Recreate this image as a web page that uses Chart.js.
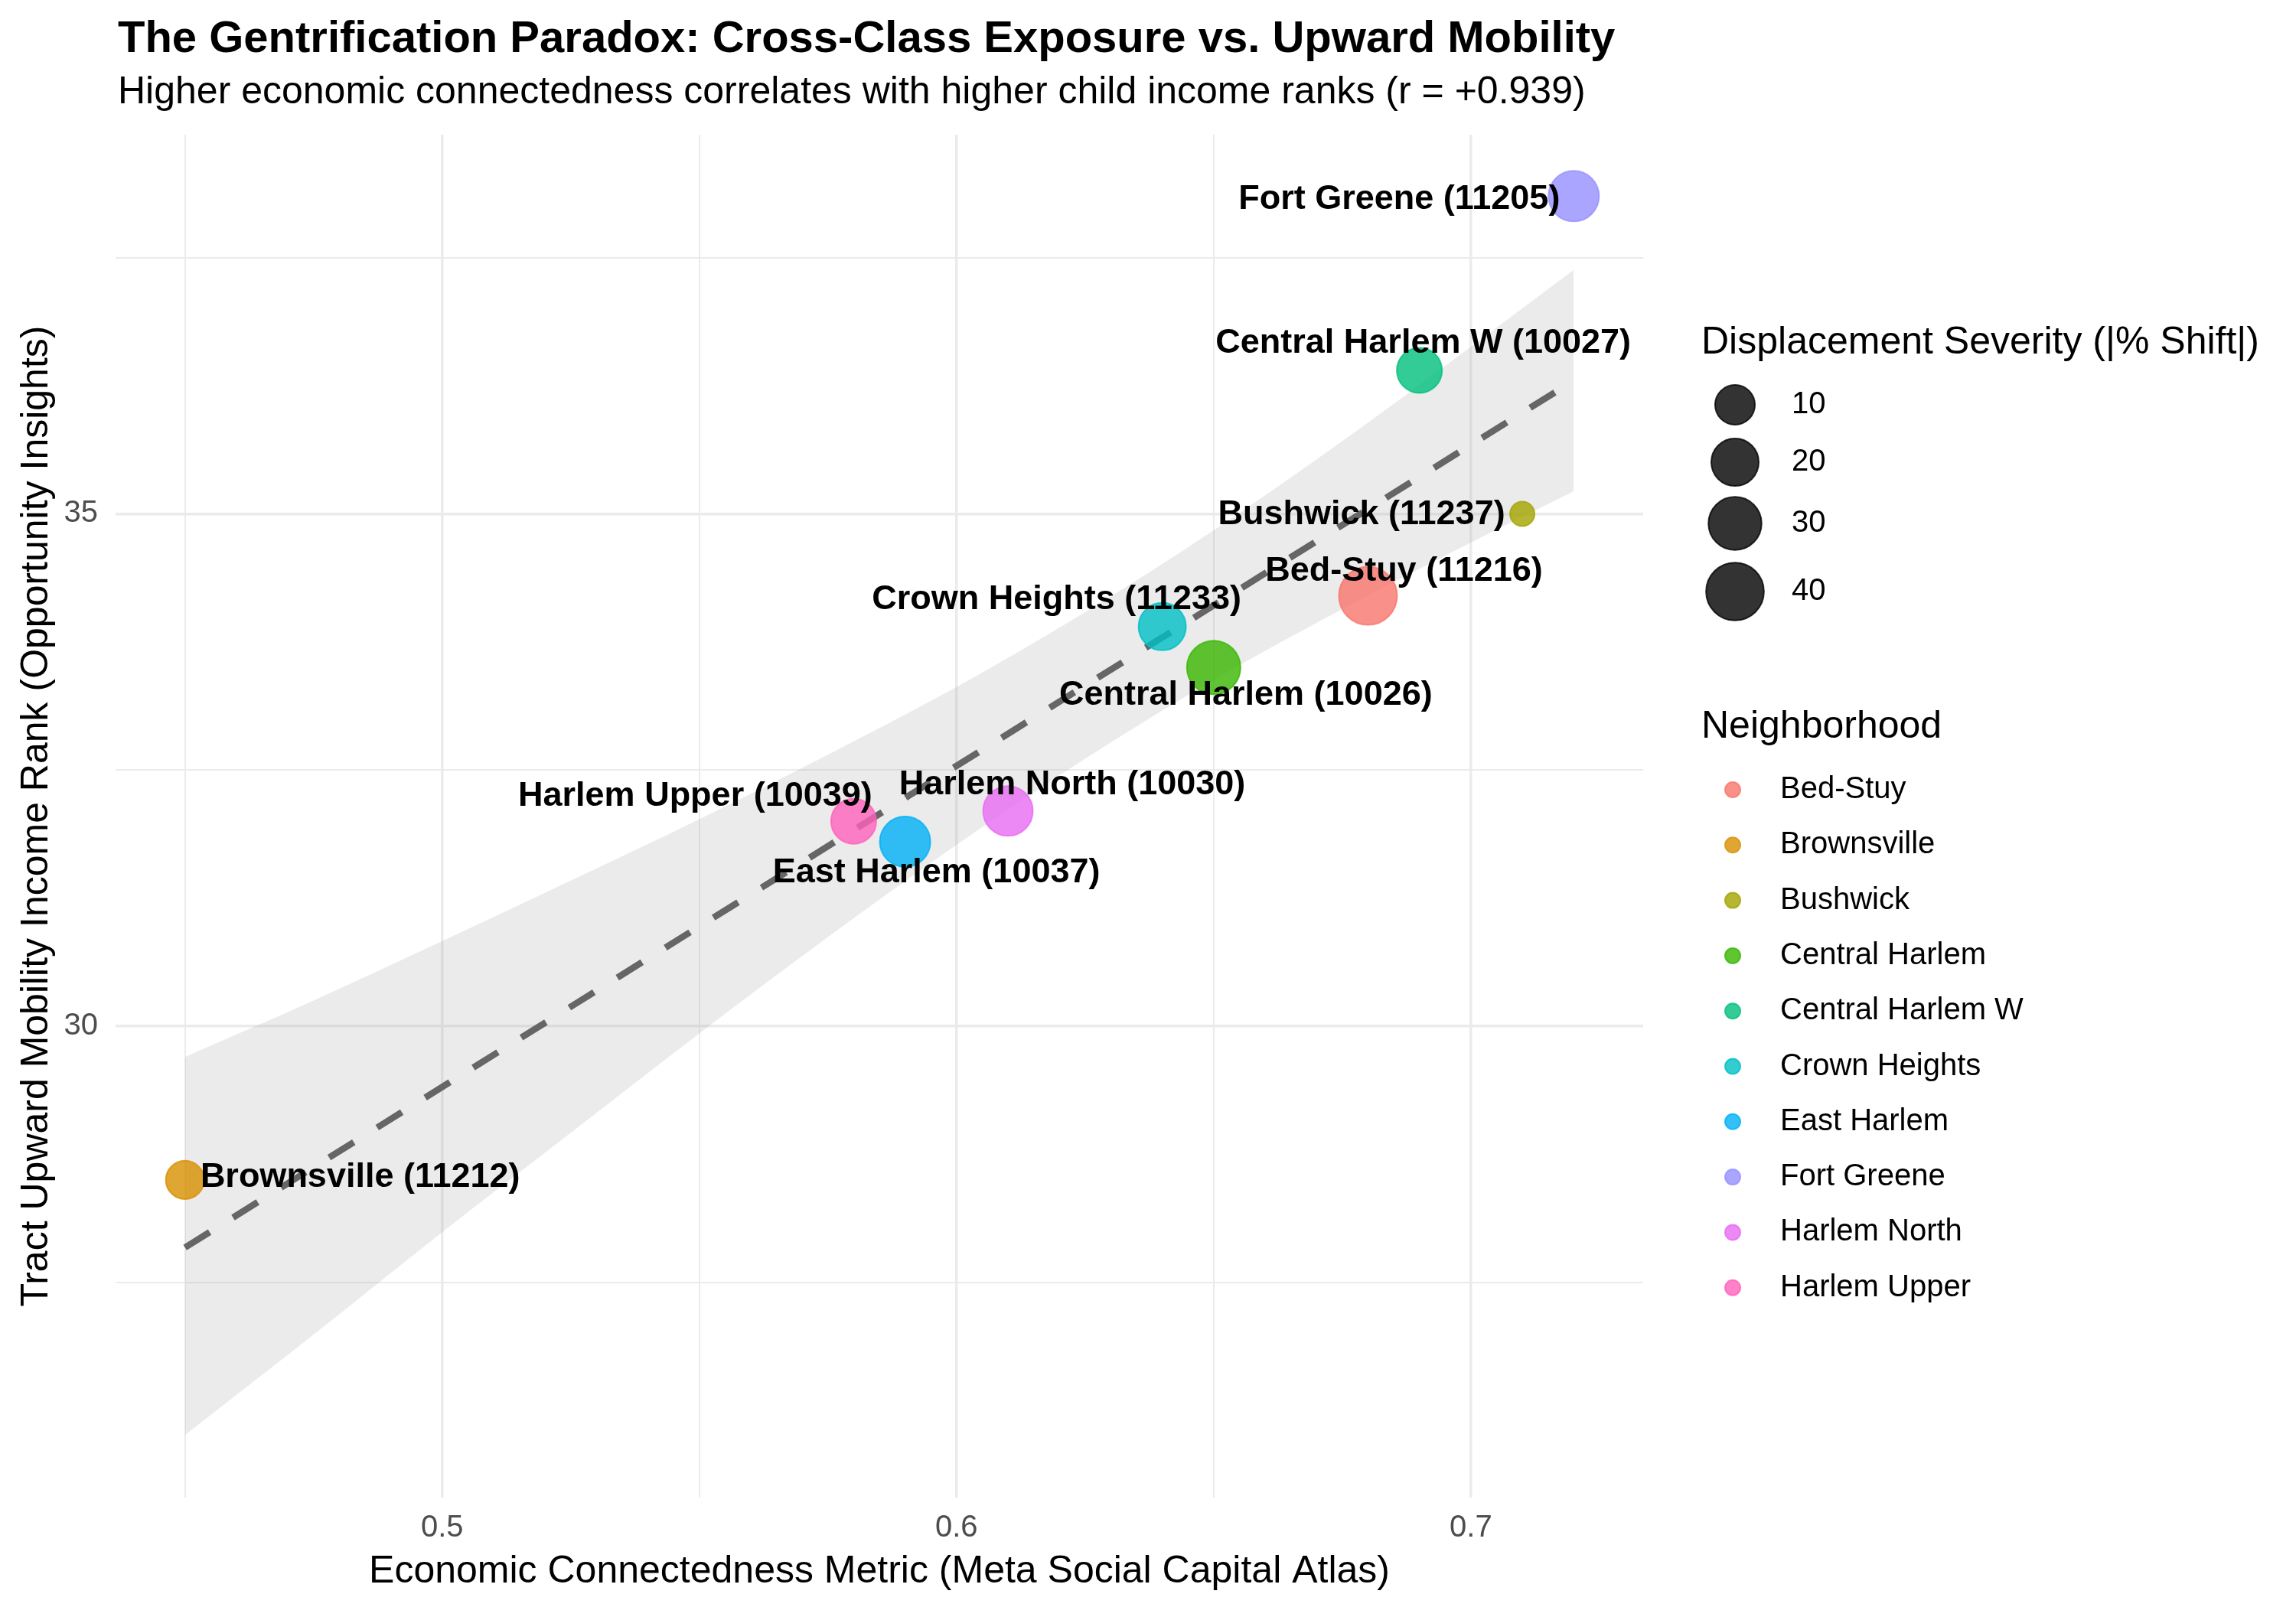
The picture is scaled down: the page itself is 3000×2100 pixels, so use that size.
<!DOCTYPE html>
<html>
<head>
<meta charset="utf-8">
<script src="https://cdn.jsdelivr.net/npm/chart.js@4.4.1/dist/chart.umd.min.js"></script>
<style>
  html, body { margin: 0; padding: 0; background: #ffffff; }
  canvas { display: block; }
</style>
</head>
<body>
<canvas id="c" width="3000" height="2100" style="width:3000px;height:2100px"></canvas>
<script>
// ---------------- DATA ----------------
const neighborhoods = ['Bed-Stuy','Brownsville','Bushwick','Central Harlem','Central Harlem W','Crown Heights','East Harlem','Fort Greene','Harlem North','Harlem Upper'];
const zipCodes      = ['11216','11212','11237','10026','10027','11233','10037','11205','10030','10039'];
const econConnect   = [0.68, 0.45, 0.71, 0.65, 0.69, 0.64, 0.59, 0.72, 0.61, 0.58];
const mobilityRank  = [34.2, 28.5, 35.0, 33.5, 36.4, 33.9, 31.8, 38.1, 32.1, 32.0];
const displacement  = [40.7, 8.5, 2.0, 30.9, 16.6, 20.0, 25.1, 25.1, 23.8, 16.6];

// fitted trend line
const fitX = [0.45, 0.72];
const fitY = [27.84, 36.30];

// confidence band
const bandX     = [0.45, 0.475, 0.50, 0.525, 0.55, 0.575, 0.60, 0.625, 0.65, 0.675, 0.70, 0.72];
const bandUpper = [29.70, 30.25, 30.83, 31.42, 32.02, 32.65, 33.31, 34.04, 34.84, 35.71, 36.63, 37.38];
const bandLower = [26.01, 26.99, 27.99, 28.96, 29.93, 30.87, 31.77, 32.61, 33.38, 34.07, 34.72, 35.22];

const xTicks = [0.45, 0.50, 0.55, 0.60, 0.65, 0.70];
const xMajor = [0.5, 0.6, 0.7];
const yTicks = [27.5, 30, 32.5, 35, 37.5];
const yMajor = [30, 35];
const sizeBreaks = [10, 20, 30, 40];

// ---------------- STYLE ----------------
const hueColors = ['#F8766D','#D89000','#A3A500','#39B600','#00BF7D','#00BFC4','#00B0F6','#9590FF','#E76BF3','#FF62BC'];
const FONT = "'Liberation Sans', Arial, Helvetica, sans-serif";
const ALPHA = 0.8;
function rgba(hex, a) {
  const n = parseInt(hex.slice(1), 16);
  return `rgba(${(n>>16)&255},${(n>>8)&255},${n&255},${a})`;
}
// label offsets (pixels, relative to point centre)
const labelDX = [47, 229, -210, 42, 5, -138, 41, -228, 84, -207];
const labelDY = [-32, -3, 1, 36, -35, -35, 41, 4, -34, -33];

const vMin = Math.min(...displacement), vMax = Math.max(...displacement);
const rMin = 16, rMax = 38;
function sizeOf(v) {
  const t = Math.max(0, Math.min(1, (v - vMin) / (vMax - vMin)));
  return rMin + (rMax - rMin) * Math.sqrt(t);
}

const overlay = {
  id: 'overlay',
  afterDatasetsDraw(chart) {
    const ctx = chart.ctx, xs = chart.scales.x, ys = chart.scales.y;
    ctx.save();
    ctx.fillStyle = '#000';
    ctx.font = `bold 45px ${FONT}`;
    ctx.textAlign = 'center';
    ctx.textBaseline = 'middle';
    for (let i = 0; i < neighborhoods.length; i++) {
      const px = xs.getPixelForValue(econConnect[i]);
      const py = ys.getPixelForValue(mobilityRank[i]);
      ctx.fillText(`${neighborhoods[i]} (${zipCodes[i]})`, px + labelDX[i], py + labelDY[i]);
    }
    ctx.restore();
  },
  afterDraw(chart) {
    const ctx = chart.ctx, a = chart.chartArea;
    ctx.save();
    // titles
    ctx.fillStyle = '#000';
    ctx.textAlign = 'left';
    ctx.textBaseline = 'alphabetic';
    ctx.font = `bold 58px ${FONT}`;
    ctx.fillText('The Gentrification Paradox: Cross-Class Exposure vs. Upward Mobility', 154, 68);
    ctx.font = `50px ${FONT}`;
    ctx.fillText('Higher economic connectedness correlates with higher child income ranks (r = +0.939)', 154, 135);
    // axis titles
    ctx.textAlign = 'center';
    ctx.font = `50px ${FONT}`;
    ctx.fillText('Economic Connectedness Metric (Meta Social Capital Atlas)', (a.left + a.right) / 2, 2068);
    ctx.save();
    ctx.translate(62, (a.top + a.bottom) / 2);
    ctx.rotate(-Math.PI / 2);
    ctx.fillText('Tract Upward Mobility Income Rank (Opportunity Insights)', 0, 0);
    ctx.restore();

    // size legend
    ctx.textAlign = 'left';
    ctx.font = `50px ${FONT}`;
    ctx.fillText('Displacement Severity (|% Shift|)', 2223, 462);
    const sizeY = [529, 604, 684, 773];
    ctx.font = `40px ${FONT}`;
    ctx.textBaseline = 'middle';
    sizeBreaks.forEach((b, i) => {
      ctx.beginPath();
      ctx.arc(2267, sizeY[i], sizeOf(b), 0, Math.PI * 2);
      ctx.fillStyle = 'rgba(0,0,0,' + ALPHA + ')';
      ctx.fill();
      ctx.lineWidth = 2;
      ctx.strokeStyle = 'rgba(0,0,0,' + ALPHA + ')';
      ctx.stroke();
      ctx.fillStyle = '#000';
      ctx.fillText(String(b), 2341, sizeY[i]);
    });

    // colour legend
    ctx.textBaseline = 'alphabetic';
    ctx.font = `50px ${FONT}`;
    ctx.fillText('Neighborhood', 2223, 964);
    ctx.font = `40px ${FONT}`;
    ctx.textBaseline = 'middle';
    neighborhoods.forEach((n, i) => {
      const yy = 1032 + i * 72.3;
      ctx.beginPath();
      ctx.arc(2264, yy, 10, 0, Math.PI * 2);
      ctx.fillStyle = rgba(hueColors[i], ALPHA);
      ctx.fill();
      ctx.lineWidth = 2;
      ctx.strokeStyle = rgba(hueColors[i], ALPHA);
      ctx.stroke();
      ctx.fillStyle = '#000';
      ctx.fillText(n, 2326, yy);
    });
    ctx.restore();
  }
};

new Chart(document.getElementById('c'), {
  type: 'scatter',
  data: {
    datasets: [
      {
        type: 'scatter',
        data: econConnect.map((x, i) => ({ x, y: mobilityRank[i] })),
        backgroundColor: hueColors.map(c => rgba(c, ALPHA)),
        borderColor: hueColors.map(c => rgba(c, ALPHA)),
        borderWidth: 2,
        pointRadius: ctx => sizeOf(displacement[ctx.dataIndex]),
        pointHoverRadius: ctx => sizeOf(displacement[ctx.dataIndex]),
        order: 0
      },
      {
        type: 'line',
        data: fitX.map((x, i) => ({ x, y: fitY[i] })),
        borderColor: '#666666',
        borderWidth: 8.5,
        borderDash: [38, 36],
        borderCapStyle: 'butt',
        pointRadius: 0,
        fill: false,
        order: 1
      },
      {
        type: 'line',
        data: bandX.map((x, i) => ({ x, y: bandUpper[i] })),
        borderWidth: 0,
        borderColor: 'rgba(0,0,0,0)',
        backgroundColor: 'rgba(153,153,153,0.2)',
        pointRadius: 0,
        cubicInterpolationMode: 'monotone',
        fill: '+1',
        order: 2
      },
      {
        type: 'line',
        data: bandX.map((x, i) => ({ x, y: bandLower[i] })),
        borderWidth: 0,
        borderColor: 'rgba(0,0,0,0)',
        pointRadius: 0,
        cubicInterpolationMode: 'monotone',
        fill: false,
        order: 3
      }
    ]
  },
  options: {
    responsive: false,
    devicePixelRatio: 1,
    animation: false,
    events: [],
    layout: { padding: { left: 0, top: 176, right: 853, bottom: 0 } },
    plugins: { legend: { display: false }, tooltip: { enabled: false } },
    scales: {
      x: {
        type: 'linear',
        min: 0.4365,
        max: 0.7335,
        afterBuildTicks: s => { s.ticks = xTicks.map(v => ({ value: v })); },
        afterFit: s => { s.height = 143; },
        border: { display: false },
        grid: {
          color: '#EBEBEB',
          drawTicks: false,
          lineWidth: c => (c.tick && xMajor.some(m => Math.abs(m - c.tick.value) < 1e-9)) ? 3.5 : 2
        },
        ticks: {
          padding: 16,
          color: '#4D4D4D',
          font: { family: FONT, size: 40 },
          maxRotation: 0,
          autoSkip: false,
          callback: v => xMajor.some(m => Math.abs(m - v) < 1e-9) ? String(+v.toFixed(2)) : ''
        }
      },
      y: {
        type: 'linear',
        min: 25.4,
        max: 38.7,
        afterBuildTicks: s => { s.ticks = yTicks.map(v => ({ value: v })); },
        afterFit: s => { s.width = 151; },
        border: { display: false },
        grid: {
          color: '#EBEBEB',
          drawTicks: false,
          lineWidth: c => (c.tick && yMajor.includes(c.tick.value)) ? 3.5 : 2
        },
        ticks: {
          padding: 23,
          color: '#4D4D4D',
          font: { family: FONT, size: 40 },
          autoSkip: false,
          callback: v => yMajor.includes(v) ? String(v) : ''
        }
      }
    }
  },
  plugins: [overlay]
});
</script>
</body>
</html>
